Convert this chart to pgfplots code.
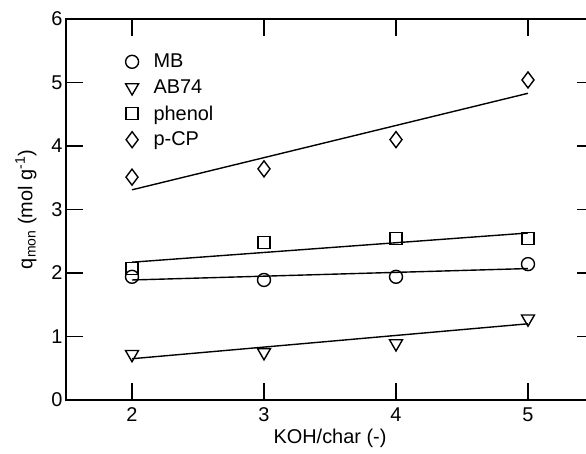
\documentclass[border=0pt]{standalone}
\usepackage{fontspec}
\setmainfont{Liberation Sans}
\usepackage{pgfplots}
\pgfplotsset{compat=1.18}

\begin{document}
\begin{tikzpicture}
\begin{axis}[
    scale only axis,
    width=528bp, height=381bp,
    xmin=1.5, xmax=5.5,
    ymin=0, ymax=6,
    xtick={2,3,4,5}, ytick={0,1,...,6},
    tick align=inside,
    major tick length=17bp,
    every tick/.style={line width=1.5pt, black},
    axis line style={line width=1.5pt},
    /pgf/number format/assume math mode=true,
    ticklabel style={font=\fontsize{20}{22}\selectfont},
    xticklabel style={yshift=-4bp},
    label style={font=\fontsize{20}{22}\selectfont},
    xlabel={KOH/char (-)},
    ylabel={q\textsubscript{mon} (mol g\textsuperscript{-1})},
    xlabel style={yshift=-1bp},
    ylabel style={yshift=8bp},
    legend style={at={(axis cs:1.95,5.48)}, anchor=north west, draw=none, fill=none,
        font=\fontsize{20}{22}\selectfont, row sep=6.5bp, inner sep=0pt},
    legend cell align=left,
    every axis plot/.append style={line width=1.4pt},
    mark options={solid, line width=1.4pt, fill=white},
]
\addplot[only marks, mark=o, mark size=6.5bp] coordinates {(2,1.94) (3,1.89) (4,1.94) (5,2.14)};
\addlegendentry{\hspace{13bp}MB}
\addplot[only marks, mark=triangle, mark options={rotate=180}, mark size=7.5bp] coordinates {(2,0.72) (3,0.75) (4,0.89) (5,1.28)};
\addlegendentry{\hspace{13bp}AB74}
\addplot[only marks, mark=square, mark size=6bp] coordinates {(2,2.07) (3,2.48) (4,2.54) (5,2.54)};
\addlegendentry{\hspace{13bp}phenol}
\addplot[only marks, mark=diamond, mark size=8bp] coordinates {(2,3.51) (3,3.64) (4,4.10) (5,5.04)};
\addlegendentry{\hspace{13bp}p-CP}

\addplot[black, no marks, forget plot] coordinates {(2,1.89) (5,2.07)};
\addplot[black, no marks, forget plot] coordinates {(2,0.65) (5,1.20)};
\addplot[black, no marks, forget plot] coordinates {(2,2.17) (5,2.63)};
\addplot[black, no marks, forget plot] coordinates {(2,3.31) (5,4.83)};
\end{axis}
\pgfresetboundingbox
\useasboundingbox (-66bp,-54bp) rectangle (520bp,400bp);
\end{tikzpicture}
\end{document}
